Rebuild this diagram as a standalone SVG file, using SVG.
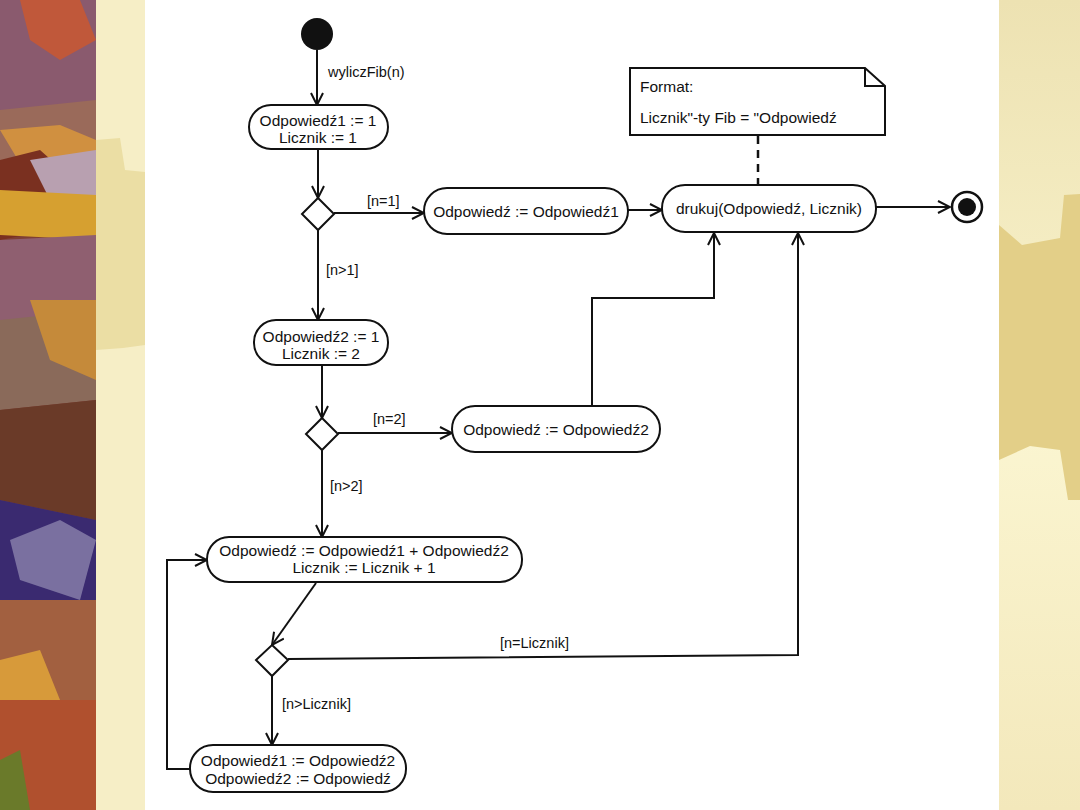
<svg xmlns="http://www.w3.org/2000/svg" width="1080" height="810" viewBox="0 0 1080 810">
<defs>
<marker id="arr" viewBox="0 0 14 14" refX="13" refY="7" markerWidth="14" markerHeight="14" markerUnits="userSpaceOnUse" orient="auto">
<polyline points="1,1 13,7 1,13" fill="none" stroke="#111" stroke-width="2"/>
</marker>
<linearGradient id="rg" x1="0" y1="0" x2="0" y2="1">
<stop offset="0" stop-color="#ede2b2"/><stop offset="0.3" stop-color="#f4ecc2"/><stop offset="0.5" stop-color="#fbf6d2"/><stop offset="1" stop-color="#f3e8bb"/>
</linearGradient>
</defs>
<style>
.n{fill:#fff;stroke:#111;stroke-width:2}
.t{font-family:"Liberation Sans",Arial,sans-serif;font-size:15.5px;fill:#111}
.l{font-family:"Liberation Sans",Arial,sans-serif;font-size:14.5px;fill:#111}
.m{font-family:"Liberation Sans",Arial,sans-serif;font-size:15.5px;fill:#111}
.c{fill:none;stroke:#111;stroke-width:2}
</style>
<g id="background">
<rect x="0" y="0" width="1080" height="810" fill="#f6eec6"/>
<rect x="0" y="0" width="96" height="810" fill="#7e3f35"/>
<polygon points="0,0 96,0 96,120 40,140 0,110" fill="#8a5a6e"/>
<polygon points="20,0 80,0 96,40 60,60 30,40" fill="#c0583a"/>
<polygon points="0,110 96,100 96,170 0,180" fill="#9a6a5a"/>
<polygon points="0,130 60,125 96,140 96,175 30,180" fill="#d09040"/>
<polygon points="0,160 40,150 96,200 96,260 50,230 0,240" fill="#7a3020"/>
<polygon points="30,160 96,150 96,240 60,220" fill="#b8a0b0"/>
<polygon points="0,190 96,195 96,240 0,235" fill="#d6a030"/>
<polygon points="0,240 96,235 96,330 0,320" fill="#8f5f70"/>
<polygon points="0,320 96,310 96,400 0,410" fill="#8a6a5a"/>
<polygon points="0,410 96,400 96,520 0,500" fill="#6a3a28"/>
<polygon points="30,300 96,300 96,380 50,360" fill="#c58a3a"/>
<polygon points="0,500 96,520 96,600 0,640" fill="#3a2a70"/>
<polygon points="10,540 60,520 96,540 80,600 20,580" fill="#7a70a0"/>
<polygon points="0,600 96,600 96,700 0,700" fill="#a26040"/>
<polygon points="0,660 40,650 60,700 40,740 0,730" fill="#d79a3a"/>
<polygon points="0,700 96,700 96,810 0,810" fill="#b0502e"/>
<polygon points="0,760 20,750 30,810 0,810" fill="#6a7a2a"/>
<polygon points="96,0 145,0 145,810 96,810" fill="#f6eec6"/>
<polygon points="96,140 120,138 125,170 145,172 145,345 123,348 96,350" fill="#ebdea4"/>
<rect x="999" y="0" width="81" height="810" fill="url(#rg)"/>
<polygon points="999,225 1022,245 1060,238 1064,195 1080,194 1080,500 1068,500 1060,450 1030,446 999,460" fill="#e3cf88"/>
<rect x="145" y="0" width="854" height="810" fill="#ffffff"/>
</g>
<g id="connectors">
<line class="c" x1="317" y1="50" x2="317" y2="105" marker-end="url(#arr)"/>
<line class="c" x1="318" y1="149" x2="318" y2="198" marker-end="url(#arr)"/>
<line class="c" x1="334" y1="213" x2="424" y2="213" marker-end="url(#arr)"/>
<line class="c" x1="628" y1="210" x2="662" y2="210" marker-end="url(#arr)"/>
<line class="c" x1="876" y1="207" x2="950" y2="207" marker-end="url(#arr)"/>
<line x1="758" y1="136" x2="758" y2="185" stroke="#111" stroke-width="2.5" stroke-dasharray="8,6"/>
<line class="c" x1="318" y1="230" x2="318" y2="320" marker-end="url(#arr)"/>
<line class="c" x1="322" y1="365" x2="322" y2="418" marker-end="url(#arr)"/>
<line class="c" x1="338" y1="433" x2="452" y2="433" marker-end="url(#arr)"/>
<polyline class="c" points="592,406 592,298 714,298 714,233" marker-end="url(#arr)"/>
<line class="c" x1="322" y1="450" x2="322" y2="537" marker-end="url(#arr)"/>
<line class="c" x1="316" y1="583" x2="272" y2="645" marker-end="url(#arr)"/>
<polyline class="c" points="288,659 798,655 798,233" marker-end="url(#arr)"/>
<line class="c" x1="272" y1="676" x2="272" y2="745" marker-end="url(#arr)"/>
<polyline class="c" points="190,769 167,769 167,560 207,560" marker-end="url(#arr)"/>
<text class="l" x="328" y="77">wyliczFib(n)</text>
<text class="l" x="367" y="206">[n=1]</text>
<text class="l" x="326" y="275">[n&gt;1]</text>
<text class="l" x="373" y="424">[n=2]</text>
<text class="l" x="330" y="491">[n&gt;2]</text>
<text class="l" x="500" y="648">[n=Licznik]</text>
<text class="l" x="282" y="709">[n&gt;Licznik]</text>
</g>
<g id="start"><circle cx="317" cy="34" r="16" fill="#111"/></g>
<g id="init1">
<rect class="n" x="249" y="105" width="139" height="44" rx="22"/>
<text class="t" x="318" y="126" text-anchor="middle">Odpowiedź1 := 1</text>
<text class="t" x="318" y="143" text-anchor="middle">Licznik := 1</text>
</g>
<g id="dec1"><polygon class="n" points="318,198 334,214 318,230 302,214"/></g>
<g id="ans1">
<rect class="n" x="424" y="188" width="204" height="46" rx="23"/>
<text class="t" x="526" y="217" text-anchor="middle">Odpowiedź := Odpowiedź1</text>
</g>
<g id="print">
<rect class="n" x="662" y="185" width="214" height="47" rx="23"/>
<text class="t" x="769" y="214" text-anchor="middle">drukuj(Odpowiedź, Licznik)</text>
</g>
<g id="note">
<polygon class="n" points="630,68 865,68 885,86 885,135 630,135"/>
<polyline class="c" points="865,68 865,86 885,86"/>
<text class="m" x="640" y="92">Format:</text>
<text class="m" x="640" y="123">Licznik"-ty Fib = "Odpowiedź</text>
</g>
<g id="end">
<circle cx="967" cy="207" r="15" fill="#fff" stroke="#111" stroke-width="2.5"/>
<circle cx="967" cy="207" r="9" fill="#111"/>
</g>
<g id="init2">
<rect class="n" x="254" y="320" width="134" height="45" rx="22"/>
<text class="t" x="321" y="342" text-anchor="middle">Odpowiedź2 := 1</text>
<text class="t" x="321" y="359" text-anchor="middle">Licznik := 2</text>
</g>
<g id="dec2"><polygon class="n" points="322,418 338,434 322,450 306,434"/></g>
<g id="ans2">
<rect class="n" x="452" y="406" width="208" height="46" rx="23"/>
<text class="t" x="556" y="435" text-anchor="middle">Odpowiedź := Odpowiedź2</text>
</g>
<g id="step">
<rect class="n" x="207" y="537" width="315" height="45" rx="22"/>
<text class="t" x="364" y="556" text-anchor="middle">Odpowiedź := Odpowiedź1 + Odpowiedź2</text>
<text class="t" x="364" y="573" text-anchor="middle">Licznik := Licznik + 1</text>
</g>
<g id="dec3"><polygon class="n" points="272,645 288,660 272,676 256,660"/></g>
<g id="shift">
<rect class="n" x="190" y="745" width="216" height="47" rx="23"/>
<text class="t" x="298" y="766" text-anchor="middle">Odpowiedź1 := Odpowiedź2</text>
<text class="t" x="298" y="784" text-anchor="middle">Odpowiedź2 := Odpowiedź</text>
</g>
</svg>
